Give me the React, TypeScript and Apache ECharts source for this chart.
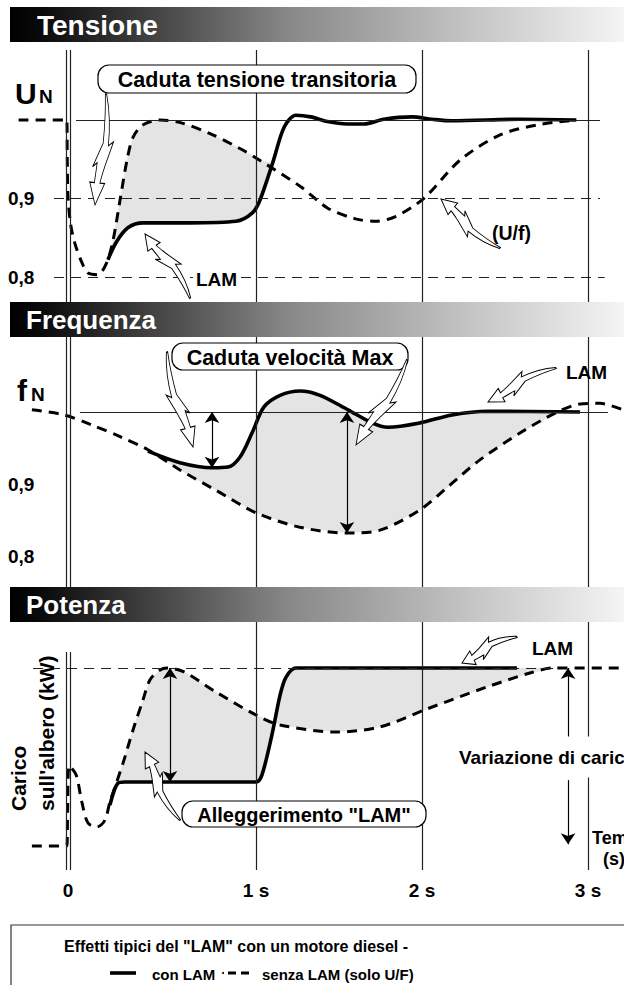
import React, { useEffect, useRef } from "react";
import * as echarts from "echarts";

// ---------- data (time in seconds, values per unit) ----------
const timeTicks = [-0.133, 1, 2, 3];
const timeTickLabels = ["0", "1 s", "2 s", "3 s"];
const levelTicks = [0.8, 0.9];
const levelTickLabels = ["0,8", "0,9"];
const sectionTitles = ["Tensione", "Frequenza", "Potenza"];

// Tensione (U / UN)
const voltageNoLam: [number, number][] = [
  [-0.43, 1.0], [-0.14, 1.0], [-0.137, 0.95], [-0.132, 0.9], [-0.115, 0.865],
  [-0.09, 0.842], [-0.048, 0.818], [-0.012, 0.805], [0.048, 0.803], [0.1, 0.818],
  [0.139, 0.847], [0.181, 0.898], [0.223, 0.949], [0.259, 0.978], [0.32, 0.994],
  [0.42, 1.0], [0.54, 0.997], [0.72, 0.983], [0.9, 0.964], [1.02, 0.949],
  [1.27, 0.915], [1.43, 0.888], [1.6, 0.874], [1.72, 0.871], [1.84, 0.877],
  [2.01, 0.9], [2.23, 0.949], [2.47, 0.981], [2.7, 0.994], [2.93, 1.0],
];
const voltageLam: [number, number][] = [
  [0.108, 0.822], [0.16, 0.845], [0.23, 0.863], [0.32, 0.869], [0.6, 0.869],
  [0.88, 0.871], [0.98, 0.882], [1.024, 0.898], [1.1, 0.945], [1.17, 0.991],
  [1.24, 1.006], [1.33, 1.004], [1.43, 0.998], [1.55, 0.995], [1.65, 0.995],
  [1.77, 1.001], [1.94, 1.004], [2.06, 1.001], [2.18, 0.999], [2.59, 1.001], [2.93, 1.0],
];

// Frequenza (f / fN)
const freqNoLam: [number, number][] = [
  [-0.35, 1.003], [-0.157, 0.996], [0.012, 0.982], [0.181, 0.966], [0.349, 0.948],
  [0.542, 0.92], [0.759, 0.892], [1.0, 0.861], [1.265, 0.841], [1.554, 0.833],
  [1.747, 0.837], [1.988, 0.865], [2.157, 0.897], [2.349, 0.934], [2.59, 0.971],
  [2.807, 0.999], [2.952, 1.011], [3.072, 1.012], [3.24, 1.0],
];
const freqLam: [number, number][] = [
  [0.349, 0.946], [0.542, 0.93], [0.735, 0.923], [0.831, 0.924], [0.904, 0.938],
  [0.976, 0.971], [1.048, 1.007], [1.145, 1.023], [1.265, 1.029], [1.386, 1.023],
  [1.554, 1.003], [1.699, 0.985], [1.795, 0.979], [1.988, 0.985], [2.181, 0.996],
  [2.398, 1.001], [2.952, 1.0],
];

// Potenza (carico relativo)
const powerNoLam: [number, number][] = [
  [-0.35, 0], [-0.14, 0], [-0.135, 0.2], [-0.125, 0.45], [-0.084, 0.4],
  [-0.048, 0.242], [-0.012, 0.129], [0.042, 0.107], [0.09, 0.146], [0.12, 0.247],
  [0.199, 0.466], [0.259, 0.652], [0.319, 0.82], [0.361, 0.933], [0.422, 0.989],
  [0.464, 1.0], [0.566, 0.978], [0.759, 0.865], [1.0, 0.736], [1.145, 0.68],
  [1.482, 0.64], [1.747, 0.669], [2.03, 0.77], [2.39, 0.893], [2.65, 0.972],
  [2.79, 1.0], [3.22, 1.0],
];
const powerLam: [number, number][] = [
  [0.12, 0.23], [0.169, 0.354], [0.21, 0.36], [0.6, 0.36], [1.0, 0.36],
  [1.036, 0.4], [1.096, 0.624], [1.145, 0.848], [1.181, 0.949], [1.241, 1.0], [2.572, 1.0],
];

// double-headed drop arrows: [panel, t, from, to]
const dropArrows: [number, number, number, number][] = [
  [1, 0.735, 1.0, 0.923],
  [1, 1.548, 1.0, 0.833],
  [2, 0.482, 1.0, 0.36],
];
// load-step arrows (panel 3): [t, from, to]
const loadStepArrows: [number, number, number][] = [
  [2.88, 0.61, 1.0],
  [2.88, 0.37, 0.01],
];

// ---------- layout ----------
const FONT = "'Liberation Sans', Arial, Helvetica, sans-serif";
const X_MIN = -0.5422;
const X_MAX = 3.2169;
const ZERO_T = timeTicks[0];
const panels = [
  { top: 50, height: 250, yMin: 0.7707, yMax: 1.0892 },
  { top: 300, height: 287, yMin: 0.7586, yMax: 1.1545 },
  { top: 587, height: 283, yMin: -0.1348, yMax: 1.4551 },
];

const ARROW_D =
  "M0 -1 C15 -8 30 -11 46 -11 L42 -18 L64 -9 C70 -7 75 -5 80 -4 L80 -11 L100 0 L80 11 L80 4 C74 4 68 3 62 3 L66 9 L44 -3 C30 -3 15 -2 0 1 Z";
echarts.graphic.registerShape("calloutArrow", echarts.graphic.extendPath(ARROW_D, {}));

const lookup = (vals: number[], labels: string[]) => (v: number) => {
  for (let i = 0; i < vals.length; i++) if (Math.abs(vals[i] - v) < 1e-6) return labels[i];
  return "";
};

function band(idx: number, a: [number, number][], b: [number, number][], t0: number, t1: number) {
  return {
    type: "custom",
    xAxisIndex: idx,
    yAxisIndex: idx,
    z: 1,
    silent: true,
    data: [[t0, 1]],
    renderItem: (_p: any, api: any) => {
      const inR = (p: [number, number]) => p[0] >= t0 && p[0] <= t1;
      const pa = a.filter(inR).map((p) => api.coord(p));
      const pb = b.filter(inR).map((p) => api.coord(p)).reverse();
      return {
        type: "polygon",
        shape: { points: pa.concat(pb) },
        style: { fill: "#e4e4e4", stroke: "#e4e4e4", lineWidth: 0.5 },
      };
    },
  };
}

function curve(idx: number, data: [number, number][], dashed: boolean) {
  return {
    type: "line",
    xAxisIndex: idx,
    yAxisIndex: idx,
    data,
    symbol: "none",
    smooth: 0.3,
    silent: true,
    z: 4,
    lineStyle: { color: "#000", width: dashed ? 3 : 3.6, type: dashed ? [10, 7] : "solid", cap: "butt" },
  };
}

const thin = { color: "#222", width: 1, type: "solid" };
const thinDash = { color: "#222", width: 1, type: [10, 7] };
const gridStyle = { color: "#222", width: 1.2, type: "solid" };

const seg = (t0: number, v0: number, t1: number, v1: number, ls: any) => [
  { coord: [t0, v0], lineStyle: ls },
  { coord: [t1, v1], lineStyle: ls },
];

function refSeries(idx: number, lines: any[]) {
  return {
    type: "line",
    xAxisIndex: idx,
    yAxisIndex: idx,
    data: [],
    z: 2,
    silent: true,
    markLine: { silent: true, symbol: "none", animation: false, label: { show: false }, data: lines },
  };
}

function verticals(idx: number) {
  const out: any[] = [1, 2, 3].map((t) => ({ xAxis: t, lineStyle: gridStyle }));
  const p = panels[idx];
  const topV = idx === 2 ? 1.09 : p.yMax;
  [-0.012, 0.012].forEach((d) => out.push(seg(ZERO_T + d, topV, ZERO_T + d, p.yMin, gridStyle)));
  return out;
}

function buildOption() {
  const grids = panels.map((p) => ({ left: 0, width: 624, top: p.top, height: p.height }));
  const xAxes = panels.map((_, i) => ({
    type: "value",
    gridIndex: i,
    min: X_MIN,
    max: X_MAX,
    axisLine: { show: false },
    axisTick: { show: false },
    splitLine: { show: false },
    axisLabel:
      i === 2
        ? {
            show: true,
            customValues: timeTicks,
            formatter: lookup(timeTicks, timeTickLabels),
            margin: 11,
            color: "#000",
            fontSize: 19,
            fontWeight: "bold",
            fontFamily: FONT,
          }
        : { show: false },
  }));
  const yAxes = panels.map((p, i) => ({
    type: "value",
    gridIndex: i,
    min: p.yMin,
    max: p.yMax,
    axisLine: { show: false },
    axisTick: { show: false },
    splitLine: { show: false },
    axisLabel:
      i < 2
        ? {
            show: true,
            inside: true,
            customValues: levelTicks,
            formatter: lookup(levelTicks, levelTickLabels),
            margin: 8,
            color: "#000",
            fontSize: 19,
            fontWeight: "bold",
            fontFamily: FONT,
          }
        : { show: false },
  }));

  const series: any[] = [
    band(0, voltageNoLam, voltageLam, 0.1, 1.1),
    band(1, freqLam, freqNoLam, 0.349, 2.81),
    band(2, powerNoLam, powerLam, 0.12, 2.8),
    refSeries(0, [
      ...verticals(0),
      seg(-0.084, 1, 3.072, 1, thin),
      seg(-0.217, 0.9, 3.072, 0.9, thinDash),
      seg(-0.217, 0.8, 3.1, 0.8, thinDash),
    ]),
    refSeries(1, [
      ...verticals(1),
      seg(-0.06, 1, 3.12, 1, thin),
      seg(-0.205, 0.9, 3.22, 0.9, thinDash),
      seg(-0.205, 0.8, 3.22, 0.8, thinDash),
    ]),
    refSeries(2, [
      ...verticals(2),
      seg(-0.343, 1, 2.8, 1, thinDash),
      seg(-0.024, 0, 3.22, 0, thin),
    ]),
    curve(0, voltageNoLam, true),
    curve(0, voltageLam, false),
    curve(1, freqNoLam, true),
    curve(1, freqLam, false),
    curve(2, powerNoLam, true),
    curve(2, powerLam, false),
  ];

  [0, 1, 2].forEach((idx) => {
    const items = dropArrows
      .filter((a) => a[0] === idx)
      .map((a) => [
        { coord: [a[1], a[2]], symbol: "arrow" },
        { coord: [a[1], a[3]], symbol: "arrow" },
      ]);
    if (idx === 2)
      loadStepArrows.forEach((a) =>
        items.push([
          { coord: [a[0], a[1]], symbol: "none" },
          { coord: [a[0], a[2]], symbol: "arrow" },
        ])
      );
    if (items.length)
      series.push({
        type: "line",
        xAxisIndex: idx,
        yAxisIndex: idx,
        data: [],
        z: 5,
        silent: true,
        markLine: {
          silent: true,
          symbol: ["arrow", "arrow"],
          symbolSize: 11,
          label: { show: false },
          lineStyle: { color: "#000", width: 1.2, type: "solid" },
          itemStyle: { color: "#000" },
          data: items,
        },
      });
  });

  const bannerFill = new echarts.graphic.LinearGradient(0, 0, 1, 0, [
    { offset: 0, color: "#000" },
    { offset: 0.05, color: "#0a0a0a" },
    { offset: 0.45, color: "#888" },
    { offset: 0.75, color: "#c6c6c6" },
    { offset: 1, color: "#f6f6f6" },
  ]);

  const g: any[] = [];
  const banners = [
    { y: 7, tx: 37, size: 28 },
    { y: 302, tx: 26, size: 26 },
    { y: 587, tx: 26, size: 26 },
  ];
  banners.forEach((b, i) => {
    g.push({ type: "rect", z: 100, shape: { x: 10, y: b.y, width: 620, height: 35 }, style: { fill: bannerFill } });
    g.push({
      type: "text",
      z: 101,
      x: b.tx,
      y: b.y + 18,
      style: { text: sectionTitles[i], fill: "#fff", font: `bold ${b.size}px ${FONT}`, verticalAlign: "middle" },
    });
  });

  const txt = (text: string, x: number, y: number, size: number, extra: any = {}) => ({
    type: "text",
    z: 102,
    x,
    y,
    style: { text, fill: "#000", font: `bold ${size}px ${FONT}`, verticalAlign: "middle", ...extra },
  });

  // U_N and f_N
  g.push(txt("U", 15, 93, 30));
  g.push(txt("N", 39, 96, 19));
  g.push(txt("f", 17, 390, 30));
  g.push(txt("N", 31, 394, 19));

  // callout boxes
  const box = (x: number, y: number, w: number, h: number, text: string, size: number) => {
    g.push({
      type: "rect",
      z: 100,
      shape: { x, y, width: w, height: h, r: 11 },
      style: { fill: "#fff", stroke: "#000", lineWidth: 1.2 },
    });
    g.push(txt(text, x + w / 2, y + h / 2 + 1, size, { align: "center" }));
  };
  box(98, 65, 318, 28, "Caduta tensione transitoria", 21.5);
  box(172, 343, 236, 27, "Caduta velocità Max", 21.5);
  box(182, 801, 244, 26, 'Alleggerimento "LAM"', 20);

  // labels
  g.push(txt("LAM", 193, 279, 19, { backgroundColor: "#fff", padding: [0, 3] }));
  g.push(txt("(U/f)", 492, 233, 19.5));
  g.push(txt("LAM", 566, 372, 19));
  g.push(txt("LAM", 532, 648, 19));
  g.push(txt("Variazione di carico", 456, 757, 19, { backgroundColor: "#fff", padding: [11, 3] }));
  g.push(txt("Tempo", 592, 838, 18));
  g.push(txt("(s)", 603, 859, 18));

  // y-axis title of the power panel (rotated)
  g.push({ ...txt("Carico", 18, 811, 21), rotation: Math.PI / 2 });
  g.push({ ...txt("sull'albero (kW)", 46, 811, 21), rotation: Math.PI / 2 });

  // callout arrows: [tailX, tailY, tipX, tipY, bend]
  const arrows: [number, number, number, number, number][] = [
    [106, 94, 95, 205, 1],
    [190, 298, 145, 234, -1],
    [500, 248, 441, 199, 1],
    [167, 352, 193, 447, -1],
    [407, 360, 356, 445, 1],
    [556, 368, 488, 402, -1],
    [180, 820, 145, 752, 1],
    [517, 637, 462, 663, -1],
  ];
  arrows.forEach(([x0, y0, x1, y1, s]) => {
    const dx = x1 - x0;
    const dy = y1 - y0;
    const len = Math.sqrt(dx * dx + dy * dy);
    g.push({
      type: "calloutArrow",
      z: 103,
      x: x0,
      y: y0,
      rotation: -Math.atan2(dy, dx),
      scaleX: len / 100,
      scaleY: 0.68 * s,
      style: { fill: "#fff", stroke: "#000", lineWidth: 1, strokeNoScale: true },
    });
  });

  // legend box
  g.push({
    type: "rect",
    z: 100,
    shape: { x: 11, y: 925, width: 700, height: 120 },
    style: { fill: "#fff", stroke: "#333", lineWidth: 1.2 },
  });
  g.push(txt('Effetti tipici del "LAM" con un motore diesel -', 236, 946, 16, { align: "center" }));
  g.push({ type: "line", z: 102, shape: { x1: 110, y1: 973, x2: 136, y2: 973 }, style: { stroke: "#000", lineWidth: 3.6 } });
  g.push(txt("con LAM", 152, 974, 15));
  g.push({ type: "circle", z: 102, shape: { cx: 223, cy: 973, r: 1 }, style: { fill: "#000" } });
  g.push({
    type: "line",
    z: 102,
    shape: { x1: 228, y1: 973, x2: 250, y2: 973 },
    style: { stroke: "#000", lineWidth: 3, lineDash: [8, 5] },
  });
  g.push(txt("senza LAM (solo U/F)", 262, 974, 15));

  return {
    animation: false,
    backgroundColor: "#fff",
    grid: grids,
    xAxis: xAxes,
    yAxis: yAxes,
    series,
    graphic: { elements: g },
  };
}

export default function App() {
  const ref = useRef<HTMLDivElement>(null);
  useEffect(() => {
    if (!ref.current) return;
    const chart = echarts.init(ref.current, null, { renderer: "svg" });
    chart.setOption(buildOption() as any);
    return () => chart.dispose();
  }, []);
  return (
    <div
      ref={ref}
      style={{ position: "absolute", left: 0, top: 0, width: 624, height: 985, background: "#fff" }}
    />
  );
}
